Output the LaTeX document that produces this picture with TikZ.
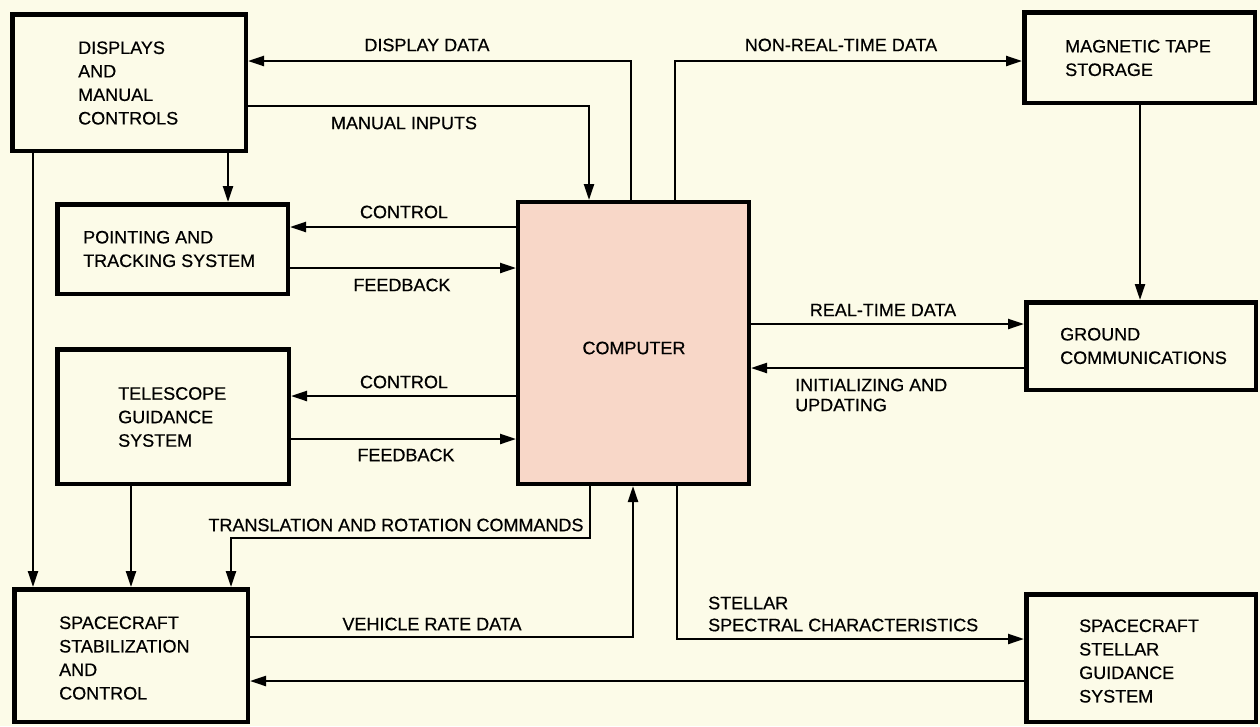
\documentclass[tikz,border=0pt]{standalone}
\usepackage{fontspec}
\setmainfont{Liberation Sans}[FakeBold=0.5]
\usetikzlibrary{arrows.meta}
\definecolor{bg}{RGB}{252,251,232}
\definecolor{compfill}{RGB}{248,215,200}
\begin{document}
\begin{tikzpicture}[x=1pt,y=-1pt,
  box/.style={draw, line width=4.5pt, fill=bg, inner sep=0pt},
  txt/.style={inner sep=0pt, font=\fontsize{18}{23.5}\selectfont, align=left, anchor=west},
  lbl/.style={inner sep=0pt, font=\fontsize{18}{21}\selectfont},
  conn/.style={line width=2.3pt},
  arr/.style={conn, -{Triangle[length=16pt,width=10pt]}}]
\useasboundingbox (0,0) rectangle (1260,726);
\fill[bg] (0,0) rectangle (1260,726);

% boxes
\node[box, minimum width=233.5pt, minimum height=136.5pt] (disp)  at (129,82.5) {};
\node[box, minimum width=230.5pt, minimum height=89.5pt]  (point) at (172.5,249) {};
\node[box, minimum width=231.5pt, minimum height=134.5pt] (tele)  at (173,416.5) {};
\node[box, line width=4pt, fill=compfill, minimum width=231pt, minimum height=282pt] (comp) at (633.5,343) {};
\node[box, minimum width=230.5pt, minimum height=90.5pt]  (tape)  at (1139.5,57.5) {};
\node[box, minimum width=229.5pt, minimum height=87.5pt]  (ground) at (1141,346) {};
\node[box, minimum width=233.5pt, minimum height=132.5pt] (stab)  at (131,655.5) {};
\node[box, minimum width=229.5pt, minimum height=127.5pt] (sg)    at (1141,658) {};

% box texts
\node[txt] (tdisp) at (78,83) {DISPLAYS\\AND\\MANUAL\\CONTROLS};
\node[txt] (tpoint) at (83,249) {POINTING AND\\TRACKING SYSTEM};
\node[txt] (ttele) at (118,417) {TELESCOPE\\GUIDANCE\\SYSTEM};
\node[lbl] (tcomp) at (634,348) {COMPUTER};
\node[txt] (ttape) at (1065,58) {MAGNETIC TAPE\\STORAGE};
\node[txt] (tground) at (1060,346) {GROUND\\COMMUNICATIONS};
\node[txt] (tstab) at (59,658) {SPACECRAFT\\STABILIZATION\\AND\\CONTROL};
\node[txt] (tsg) at (1079,661) {SPACECRAFT\\STELLAR\\GUIDANCE\\SYSTEM};

% connectors
\draw[arr] (631,0 |- comp.north) |- (disp.east |- 0,61);
\draw[arr] (disp.east |- 0,106) -| (589,0 |- comp.north);
\draw[arr] (675,0 |- comp.north) |- (tape.west |- 0,61);
\draw[arr] (1140,0 |- tape.south) -- (1140,0 |- ground.north);
\draw[arr] (comp.east |- 0,324) -- (ground.west |- 0,324);
\draw[arr] (ground.west |- 0,368) -- (comp.east |- 0,368);
\draw[arr] (228,0 |- disp.south) -- (228,0 |- point.north);
\draw[arr] (comp.west |- 0,227) -- (point.east |- 0,227);
\draw[arr] (point.east |- 0,268) -- (comp.west |- 0,268);
\draw[arr] (comp.west |- 0,396) -- (tele.east |- 0,396);
\draw[arr] (tele.east |- 0,439) -- (comp.west |- 0,439);
\draw[arr] (33,0 |- disp.south) -- (33,0 |- stab.north);
\draw[arr] (131,0 |- tele.south) -- (131,0 |- stab.north);
\draw[arr] (590,0 |- comp.south) -- (590,538) -| (231,0 |- stab.north);
\draw[arr] (stab.east |- 0,637) -| (633,0 |- comp.south);
\draw[arr] (677,0 |- comp.south) |- (sg.west |- 0,639);
\draw[arr] (sg.west |- 0,681) -- (stab.east |- 0,681);

% connector labels
\node[lbl] (l1) at (427,45) {DISPLAY DATA};
\node[lbl] (l2) at (404,123) {MANUAL INPUTS};
\node[lbl] (l3) at (841,45) {NON-REAL-TIME DATA};
\node[lbl] (l4) at (883,310) {REAL-TIME DATA};
\node[txt, font=\fontsize{18}{20}\selectfont] (l5) at (795,395) {INITIALIZING AND\\UPDATING};
\node[lbl] (l6) at (404,212) {CONTROL};
\node[lbl] (l7) at (402,285) {FEEDBACK};
\node[lbl] (l8) at (404,382) {CONTROL};
\node[lbl] (l9) at (406,455) {FEEDBACK};
\node[lbl] (l10) at (396,525) {TRANSLATION AND ROTATION COMMANDS};
\node[lbl] (l11) at (432,624) {VEHICLE RATE DATA};
\node[txt, font=\fontsize{18}{22}\selectfont] (l12) at (708,614) {STELLAR\\SPECTRAL CHARACTERISTICS};
\end{tikzpicture}
\end{document}
